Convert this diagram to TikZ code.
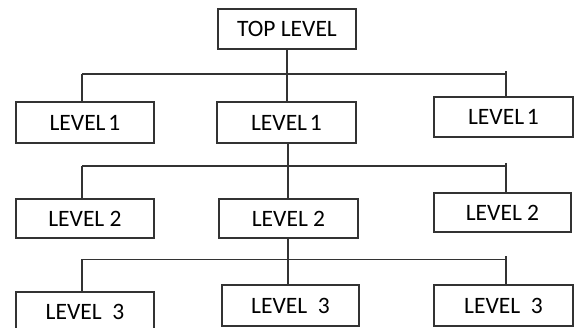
\documentclass[tikz,border=0pt]{standalone}
\usepackage{fontspec}
\setmainfont{Carlito}
\begin{document}
\begin{tikzpicture}[x=1pt,y=-1pt,
  box/.style={draw=black!80,line width=1.7pt,fill=white,inner sep=0pt,
    text=black,font=\fontsize{23.5}{26}\selectfont},
  conn/.style={draw=black!80,line width=1.7pt}]
\useasboundingbox (0,0) rectangle (578,328);
\clip (0,0) rectangle (578,328);
% boxes
\node[box,minimum width=138pt,minimum height=40pt] (top) at (287,29) {TOP LEVEL};
\node[box,minimum width=138pt,minimum height=41pt] (L1a) at (85,122.5) {LEVEL\hspace{0.12em}1};
\node[box,minimum width=139pt,minimum height=41pt] (L1b) at (286.5,122.5) {LEVEL\hspace{0.12em}1};
\node[box,minimum width=139pt,minimum height=40pt] (L1c) at (503.5,117) {LEVEL\hspace{0.12em}1};
\node[box,minimum width=138pt,minimum height=39pt] (L2a) at (85,218.5) {LEVEL 2};
\node[box,minimum width=139pt,minimum height=39pt] (L2b) at (288.5,218.5) {LEVEL 2};
\node[box,minimum width=137pt,minimum height=39pt] (L2c) at (502.5,212.5) {LEVEL 2};
\node[box,minimum width=138pt,minimum height=40pt] (L3a) at (85,312) {LEVEL\hspace{0.45em}3};
\node[box,minimum width=137pt,minimum height=41pt] (L3b) at (290.5,305.5) {LEVEL\hspace{0.45em}3};
\node[box,minimum width=139pt,minimum height=41pt] (L3c) at (503.5,305.5) {LEVEL\hspace{0.45em}3};
% junction coordinates
\coordinate (h1l) at (82,74.3);
\coordinate (h1r) at (506,74.3);
\coordinate (h1t) at (506,71.5);
\coordinate (h2l) at (82,165.7);
\coordinate (h2r) at (506,165.7);
\coordinate (h2t) at (506,163);
\coordinate (h2m) at (287.7,165.7);
\coordinate (h3l) at (82,259.5);
\coordinate (h3r) at (506,259.5);
\coordinate (h3t) at (506,256.5);
\coordinate (h3m) at (287.7,259.5);
% level 1 connectors
\draw[conn] (top.south) -- (top.south |- L1b.north);
\draw[conn] (h1l) -- (h1r);
\draw[conn] (h1l) -- (h1l |- L1a.north);
\draw[conn] (h1t) -- (h1t |- L1c.north);
% level 2 connectors
\draw[conn] (h2m |- L1b.south) -- (h2m |- L2b.north);
\draw[conn] (h2l) -- (h2r);
\draw[conn] (h2l) -- (h2l |- L2a.north);
\draw[conn] (h2t) -- (h2t |- L2c.north);
% level 3 connectors
\draw[conn] (h3m |- L2b.south) -- (h3m |- L3b.north);
\draw[conn] (h3l) -- (h3r);
\draw[conn] (h3l) -- (h3l |- L3a.north);
\draw[conn] (h3t) -- (h3t |- L3c.north);
\end{tikzpicture}
\end{document}
